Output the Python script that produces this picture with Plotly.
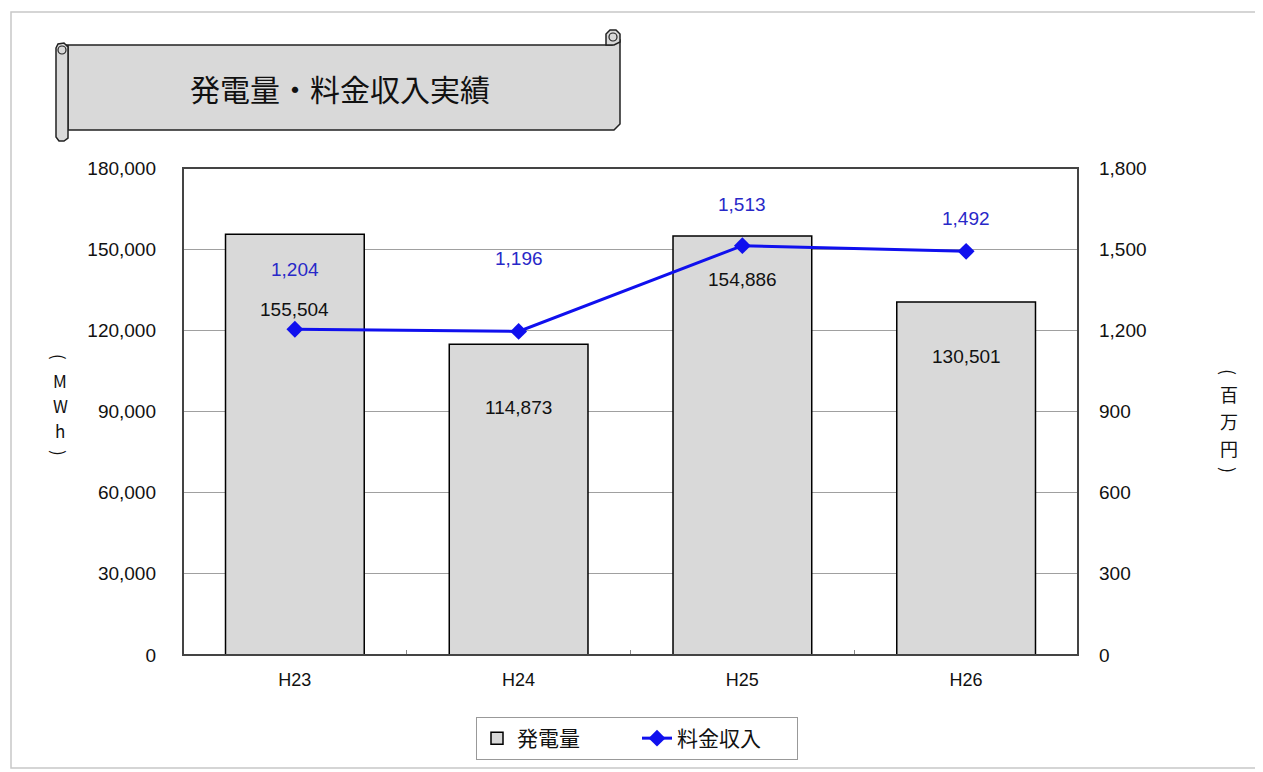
import plotly.graph_objects as go

categories = ["H23", "H24", "H25", "H26"]
generation = [155504, 114873, 154886, 130501]
revenue = [1204, 1196, 1513, 1492]
gen_labels = ["155,504", "114,873", "154,886", "130,501"]
rev_labels = ["1,204", "1,196", "1,513", "1,492"]

OFF = 8  # page body margin
W, H = 1263 - OFF, 772 - OFF
L, R, T, B = 183, 1078, 168, 655  # plot area in window pixels

def px(x):
    return (x - L) / (R - L)

def py(y):
    return (B - y) / (B - T)

def path(points, close=True):
    s = "M %.5f %.5f " % (px(points[0][0]), py(points[0][1]))
    for p in points[1:]:
        s += "L %.5f %.5f " % (px(p[0]), py(p[1]))
    if close:
        s += "Z"
    return s

FONT = "Liberation Sans, Arial, Noto Sans CJK JP"
JFONT = "Noto Sans CJK JP, Liberation Sans"

fig = go.Figure()
fig.add_trace(go.Bar(
    x=categories, y=generation, name="発電量",
    marker=dict(color="#d9d9d9", line=dict(color="#000000", width=1.5)),
    yaxis="y", hoverinfo="skip"
))
fig.add_trace(go.Scatter(
    x=categories, y=revenue, name="料金収入", mode="lines+markers",
    line=dict(color="#1010ee", width=3),
    marker=dict(symbol="diamond", size=13, color="#1010ee"),
    yaxis="y2"
))

gen_shift = [-75, -63, -44, -55]
rev_shift = [60, 73, 41, 33]
for c, v, t, s in zip(categories, generation, gen_labels, gen_shift):
    fig.add_annotation(x=c, y=v, text=t, showarrow=False, yshift=s,
                       xref="x", yref="y", font=dict(family=FONT, size=19, color="#111"))
for c, v, t, s in zip(categories, revenue, rev_labels, rev_shift):
    fig.add_annotation(x=c, y=v, text=t, showarrow=False, yshift=s,
                       xref="x", yref="y2", font=dict(family=FONT, size=19, color="#2828c8"))

# axis unit titles (vertical, one character per annotation)
left_chars = ["(", "M", "W", "h", ")"]
left_y = [357, 380, 405, 430, 453]
for ch, yy in zip(left_chars, left_y):
    ang = 90 if ch in "()" else 0
    fig.add_annotation(xref="paper", yref="paper", x=px(60), y=py(yy), showarrow=False,
                       xanchor="center", yanchor="middle", textangle=ang,
                       text=ch, font=dict(family=JFONT, size=17, color="#111"))
right_chars = ["(", "百", "万", "円", ")"]
right_y = [372, 394, 421, 448, 470]
for ch, yy in zip(right_chars, right_y):
    ang = 90 if ch in "()" else 0
    fig.add_annotation(xref="paper", yref="paper", x=px(1229), y=py(yy), showarrow=False,
                       xanchor="center", yanchor="middle", textangle=ang,
                       text=ch, font=dict(family=JFONT, size=18, color="#111"))

shapes = []
# outer frame
shapes.append(dict(type="rect", xref="paper", yref="paper",
                   x0=px(11), x1=px(1259), y0=py(768), y1=py(12),
                   line=dict(color="#c8c8c8", width=1.5), layer="below"))
# banner main body
shapes.append(dict(type="path", xref="paper", yref="paper",
                   path=path([(62, 45), (612, 45), (612, 40), (620, 40), (620, 124), (614, 130),
                              (68, 130), (68, 45)]),
                   fillcolor="#d9d9d9", line=dict(color="#222", width=1.5)))
# left roll
shapes.append(dict(type="path", xref="paper", yref="paper",
                   path=path([(56, 48), (58, 44), (64, 43), (68, 47), (68, 138), (64, 141),
                              (59, 141), (56, 137)]),
                   fillcolor="#d9d9d9", line=dict(color="#222", width=1.5)))
shapes.append(dict(type="circle", xref="paper", yref="paper",
                   x0=px(58), x1=px(66), y0=py(54), y1=py(46),
                   line=dict(color="#222", width=1.2)))
# right curl
shapes.append(dict(type="path", xref="paper", yref="paper",
                   path=path([(606, 45), (606, 34), (610, 30), (616, 30), (620, 34), (620, 42), (614, 45)]),
                   fillcolor="#d9d9d9", line=dict(color="#222", width=1.5)))
shapes.append(dict(type="circle", xref="paper", yref="paper",
                   x0=px(609), x1=px(617), y0=py(41), y1=py(33),
                   line=dict(color="#222", width=1.2)))
# plot frame
shapes.append(dict(type="rect", xref="paper", yref="paper", x0=0, x1=1, y0=0, y1=1,
                   line=dict(color="#444", width=2)))

fig.add_annotation(xref="paper", yref="paper", x=px(340), y=py(88), showarrow=False,
                   xanchor="center", yanchor="middle",
                   text="発電量・料金収入実績", font=dict(family=JFONT, size=30, color="#111"))

fig.update_layout(
    width=W, height=H,
    margin=dict(l=L - OFF, r=W - (R - OFF), t=T - OFF, b=H - (B - OFF), autoexpand=False),
    paper_bgcolor="white", plot_bgcolor="white",
    bargap=0.38,
    shapes=shapes,
    showlegend=True,
    legend=dict(orientation="h", x=px(637), y=py(717), xanchor="center", yanchor="top",
                bordercolor="#999", borderwidth=1, bgcolor="white",
                entrywidth=115, entrywidthmode="pixels",
                font=dict(family=JFONT, size=21, color="#111"), traceorder="normal"),
    xaxis=dict(tickfont=dict(family=FONT, size=18, color="#111"), showline=False,
               ticks="inside", tickson="boundaries", ticklen=5, tickcolor="#888",
               showgrid=False, ticklabelstandoff=12),
    yaxis=dict(range=[0, 180000], dtick=30000, tickformat=",d",
               tickfont=dict(family=FONT, size=19, color="#111"),
               gridcolor="#a0a0a0", gridwidth=1, showline=False, zeroline=False,
               ticks="", ticklabelstandoff=26),
    yaxis2=dict(range=[0, 1800], dtick=300, tickformat=",d", overlaying="y", side="right",
                tickfont=dict(family=FONT, size=19, color="#111"),
                showgrid=False, showline=False, zeroline=False, ticks="", ticklabelstandoff=20),
    font=dict(family=FONT),
)

fig.write_html("out.html")
